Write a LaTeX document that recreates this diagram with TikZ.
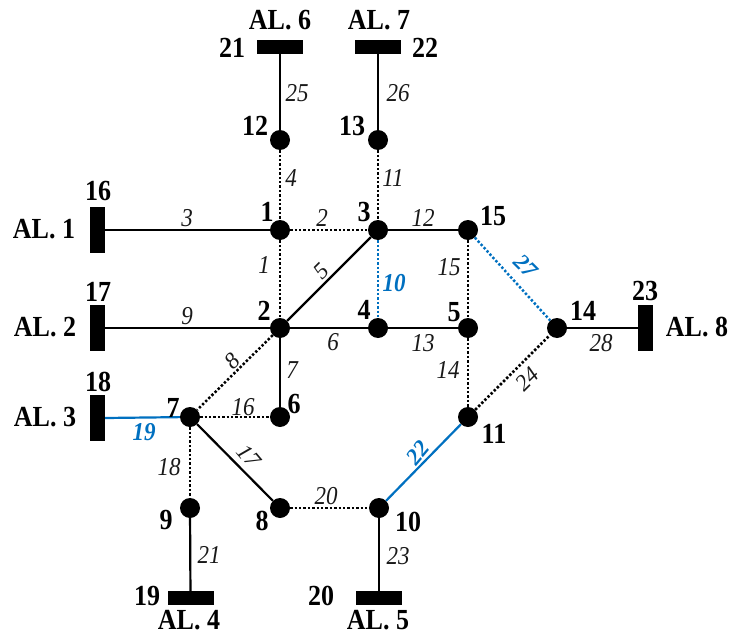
\documentclass[tikz,border=0pt]{standalone}
\usepackage{fontspec}
\setmainfont{Liberation Serif}[BoldFont={Liberation Serif Bold},ItalicFont={Liberation Serif Italic},BoldItalicFont={Liberation Serif Bold Italic}]
\definecolor{lineblue}{RGB}{0,112,192}
\newcommand{\tallA}[1]{\scalebox{1}[1.12]{#1}}
\begin{document}
\begin{tikzpicture}[x=1pt,y=-1pt,
  bus/.style={circle,fill=black,inner sep=0pt,minimum size=20pt},
  vbar/.style={rectangle,fill=black,inner sep=0pt,minimum width=15pt,minimum height=46pt},
  hbar/.style={rectangle,fill=black,inner sep=0pt,minimum width=46pt,minimum height=14pt},
  nlab/.style={font=\rmfamily\fontsize{26}{26}\selectfont\bfseries,inner sep=0pt},
  elab/.style={font=\rmfamily\fontsize{23}{23}\selectfont\itshape,text=black!90,inner sep=0pt},
  blab/.style={font=\rmfamily\fontsize{23}{23}\selectfont\bfseries\itshape,text=lineblue,inner sep=0pt},
  solidline/.style={line width=2.2pt},
  dotline/.style={line width=2.5pt,dash pattern=on 2.4pt off 2pt},
  bluesolid/.style={line width=2.2pt,draw=lineblue},
  bluedot/.style={line width=2.5pt,dash pattern=on 2.4pt off 2pt,draw=lineblue}]
\useasboundingbox (0,0) rectangle (731,634);
% buses
\node[bus] (n1) at (280,230) {};
\node[bus] (n3) at (378,230) {};
\node[bus] (n15) at (468,230) {};
\node[bus] (n2) at (280,328) {};
\node[bus] (n4) at (378,328) {};
\node[bus] (n5) at (468,328) {};
\node[bus] (n14) at (557,328) {};
\node[bus] (n12) at (280,140) {};
\node[bus] (n13) at (378,140) {};
\node[bus] (n7) at (190,417) {};
\node[bus] (n6) at (280,417) {};
\node[bus] (n11) at (468,417) {};
\node[bus] (n9) at (190,508) {};
\node[bus] (n8) at (280,508) {};
\node[bus] (n10) at (379,508) {};
% load bars
\node[vbar] (b16) at (97.5,230) {};
\node[vbar] (b17) at (97.5,328) {};
\node[vbar] (b18) at (97.5,418) {};
\node[vbar] (b23) at (645.5,328) {};
\node[hbar] (b21) at (280,47) {};
\node[hbar] (b22) at (378,47) {};
\node[hbar] (b19) at (190.5,598) {};
\node[hbar] (b20) at (379,598) {};
% connectors
\draw[solidline] (n12) -- (b21);
\draw[solidline] (n13) -- (b22);
\draw[dotline] (n12) -- (n1);
\draw[dotline] (n13) -- (n3);
\draw[solidline] (b16) -- (n1);
\draw[dotline] (n1) -- (n3);
\draw[solidline] (n3) -- (n15);
\draw[dotline] (n1) -- (n2);
\draw[solidline] (n2) -- (n3);
\draw[bluedot] (n3) -- (n4);
\draw[dotline] (n15) -- (n5);
\draw[bluedot] (n15) -- (n14);
\draw[solidline] (b17) -- (n2);
\draw[solidline] (n2) -- (n4);
\draw[solidline] (n4) -- (n5);
\draw[solidline] (n14) -- (b23);
\draw[dotline] (n2) -- (n7);
\draw[solidline] (n2) -- (n6);
\draw[dotline] (n5) -- (n11);
\draw[dotline] (n11) -- (n14);
\draw[dotline] (n7) -- (n6);
\draw[bluesolid] (b18.east) -- (n7);
\draw[dotline] (n7) -- (n9);
\draw[solidline] (n7) -- (n8);
\draw[dotline] (n8) -- (n10);
\draw[bluesolid] (n10) -- (n11);
\draw[solidline] (n9) -- (b19);
\draw[solidline] (n10) -- (b20);
% bus numbers
\node[nlab] (l1) at (267,212) {\tallA{1}};
\node[nlab] (l3) at (364,212) {\tallA{3}};
\node[nlab] (l15) at (493,216) {\tallA{15}};
\node[nlab] (l2) at (264,311) {\tallA{2}};
\node[nlab] (l4) at (364,310) {\tallA{4}};
\node[nlab] (l5) at (454,312) {\tallA{5}};
\node[nlab] (l14) at (583,311) {\tallA{14}};
\node[nlab] (l12) at (255,126) {\tallA{12}};
\node[nlab] (l13) at (352,126) {\tallA{13}};
\node[nlab] (l7) at (173,408) {\tallA{7}};
\node[nlab] (l6) at (294,404) {\tallA{6}};
\node[nlab] (l11) at (494,434) {\tallA{11}};
\node[nlab] (l9) at (166,520) {\tallA{9}};
\node[nlab] (l8) at (262,521) {\tallA{8}};
\node[nlab] (l10) at (408,522) {\tallA{10}};
\node[nlab] (l16) at (98,191) {\tallA{16}};
\node[nlab] (l17) at (98,292) {\tallA{17}};
\node[nlab] (l18) at (98,382) {\tallA{18}};
\node[nlab] (l23) at (645,291) {\tallA{23}};
\node[nlab] (l21) at (232,48) {\tallA{21}};
\node[nlab] (l22) at (425,48) {\tallA{22}};
\node[nlab] (l19) at (147,596) {\tallA{19}};
\node[nlab] (l20) at (321,596) {\tallA{20}};
% load names
\node[nlab] (al1) at (44,229) {\tallA{AL. 1}};
\node[nlab] (al2) at (45,327) {\tallA{AL. 2}};
\node[nlab] (al3) at (45,417) {\tallA{AL. 3}};
\node[nlab] (al8) at (697,327) {\tallA{AL. 8}};
\node[nlab] (al6) at (280,20) {\tallA{AL. 6}};
\node[nlab] (al7) at (379,20) {\tallA{AL. 7}};
\node[nlab] (al4) at (189,620) {\tallA{AL. 4}};
\node[nlab] (al5) at (378,620) {\tallA{AL. 5}};
% branch numbers
\node[elab] (e25) at (297,93) {\tallA{25}};
\node[elab] (e26) at (398,93) {\tallA{26}};
\node[elab] (e4) at (291,178) {\tallA{4}};
\node[elab] (e11) at (393,178) {\tallA{11}};
\node[elab] (e3) at (187,218) {\tallA{3}};
\node[elab] (e2) at (322,218) {\tallA{2}};
\node[elab] (e12) at (423,218) {\tallA{12}};
\node[elab] (e1) at (264,265) {\tallA{1}};
\node[elab,rotate=45] (e5) at (321,271) {5};
\node[blab] (e10) at (394,283) {\tallA{10}};
\node[elab] (e15) at (449,267) {\tallA{15}};
\node[blab,rotate=-45] (e27) at (526,266) {27};
\node[elab] (e9) at (187,316) {\tallA{9}};
\node[elab] (e6) at (333,342) {\tallA{6}};
\node[elab] (e13) at (423,343) {\tallA{13}};
\node[elab] (e28) at (601,343) {\tallA{28}};
\node[elab,rotate=45] (e8) at (232,361) {8};
\node[elab] (e7) at (292,370) {\tallA{7}};
\node[elab] (e14) at (448,370) {\tallA{14}};
\node[elab,rotate=45] (e24) at (527,379) {24};
\node[elab] (e16) at (243,407) {\tallA{16}};
\node[blab] (e19) at (144,432) {\tallA{19}};
\node[elab] (e18) at (169,467) {\tallA{18}};
\node[elab,rotate=-50] (e17) at (249,456) {17};
\node[elab] (e20) at (326,496) {\tallA{20}};
\node[blab,rotate=50] (e22) at (418,453) {22};
\node[elab] (e21) at (209,555) {\tallA{21}};
\node[elab] (e23) at (398,556) {\tallA{23}};
\end{tikzpicture}
\end{document}
